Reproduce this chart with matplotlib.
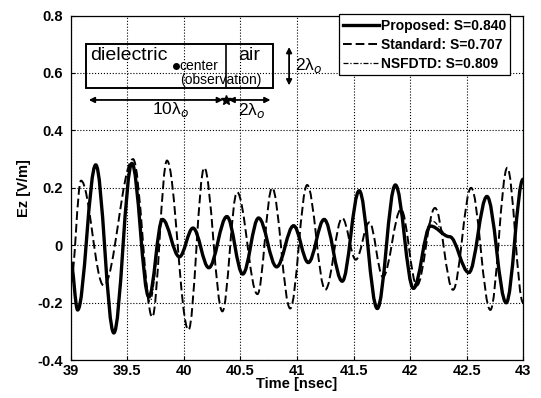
import matplotlib
matplotlib.use('Agg')
import matplotlib.pyplot as plt
from matplotlib.path import Path
from matplotlib.patches import PathPatch, Rectangle
from matplotlib.lines import Line2D

plt.rcParams['font.family'] = ['Liberation Sans', 'DejaVu Sans']
plt.rcParams['mathtext.fontset'] = 'dejavusans'

# turning points: time [nsec], Ez [V/m]
prop_t = [39.00, 39.06, 39.22, 39.38, 39.54, 39.69, 39.81, 39.96, 40.08, 40.22,
          40.38, 40.52, 40.66, 40.82, 40.97, 41.10, 41.24, 41.40, 41.55, 41.71,
          41.87, 42.03, 42.18, 42.35, 42.52, 42.68, 42.85, 43.00]
prop_ez = [-0.06, -0.225, 0.28, -0.305, 0.285, -0.18, 0.09, -0.04, 0.06, -0.078,
           0.10, -0.10, 0.095, -0.075, 0.068, -0.06, 0.09, -0.125, 0.19, -0.22,
           0.21, -0.15, 0.067, 0.03, -0.095, 0.17, -0.20, 0.23]

std_t = [39.00, 39.09, 39.29, 39.55, 39.72, 39.85, 40.04, 40.18, 40.34, 40.47,
         40.65, 40.78, 40.94, 41.09, 41.25, 41.40, 41.52, 41.64, 41.76, 41.92,
         42.06, 42.22, 42.38, 42.54, 42.71, 42.86, 43.00]
std_ez = [-0.13, 0.225, -0.14, 0.30, -0.25, 0.295, -0.295, 0.27, -0.23, 0.185,
          -0.17, 0.20, -0.22, 0.21, -0.155, 0.095, -0.05, 0.08, -0.11, 0.125,
          -0.14, 0.13, -0.155, 0.20, -0.225, 0.27, -0.20]

nsf_t = [39.00, 39.06, 39.22, 39.38, 39.54, 39.70, 39.81, 39.96, 40.08, 40.22,
         40.38, 40.52, 40.66, 40.82, 40.97, 41.10, 41.24, 41.40, 41.55, 41.71,
         41.87, 42.03, 42.19, 42.35, 42.52, 42.68, 42.85, 43.00]
nsf_ez = [-0.07, -0.22, 0.28, -0.30, 0.28, -0.195, 0.09, -0.04, 0.06, -0.078,
          0.10, -0.10, 0.095, -0.075, 0.07, -0.06, 0.09, -0.125, 0.185, -0.21,
          0.21, -0.14, 0.085, 0.03, -0.095, 0.17, -0.195, 0.23]

labels = ['Proposed: S=0.840', 'Standard: S=0.707', 'NSFDTD: S=0.809']
xticks = [39, 39.5, 40, 40.5, 41, 41.5, 42, 42.5, 43]
xticklabels = ['39', '39.5', '40', '40.5', '41', '41.5', '42', '42.5', '43']
yticks = [-0.4, -0.2, 0, 0.2, 0.4, 0.6, 0.8]
yticklabels = ['-0.4', '-0.2', '0', '0.2', '0.4', '0.6', '0.8']


def wave_path(t, y, c=0.364):
    # smooth curve through the turning points, flat at each one
    verts = [(t[0], y[0])]
    codes = [Path.MOVETO]
    for i in range(len(t) - 1):
        dt = t[i + 1] - t[i]
        verts += [(t[i] + c * dt, y[i]), (t[i + 1] - c * dt, y[i + 1]), (t[i + 1], y[i + 1])]
        codes += [Path.CURVE4] * 3
    return Path(verts, codes)


fig = plt.figure(figsize=(5.41, 3.98), dpi=100)
ax = fig.add_axes([0.131, 0.095, 0.836, 0.866])

styles = [dict(ls='-', lw=2.4), dict(ls=(0, (4.5, 2)), lw=1.4), dict(ls=(0, (4, 1.5, 1, 1.5)), lw=0.9)]
for (t, y), st in zip([(std_t, std_ez), (nsf_t, nsf_ez), (prop_t, prop_ez)], [styles[1], styles[2], styles[0]]):
    ax.add_patch(PathPatch(wave_path(t, y), fill=False, ec='black', **st))

ax.set_xlim(39, 43)
ax.set_ylim(-0.4, 0.8)
ax.set_xticks(xticks)
ax.set_xticklabels(xticklabels)
ax.set_yticks(yticks)
ax.set_yticklabels(yticklabels)
ax.tick_params(direction='in', length=3, labelsize=10.5, width=0.8)
ax.tick_params(axis='y', pad=6)
ax.tick_params(axis='x', pad=3)
for lab in ax.get_xticklabels() + ax.get_yticklabels():
    lab.set_fontweight('bold')
ax.grid(True, ls=':', color='black', lw=0.8)
for s in ax.spines.values():
    s.set_linewidth(0.9)
ax.set_xlabel('Time [nsec]', fontweight='bold', fontsize=10.5, labelpad=-1)
ax.set_ylabel('Ez [V/m]', fontweight='bold', fontsize=10.5, labelpad=4)

handles = [Line2D([], [], color='black', **st) for st in styles]
leg = ax.legend(handles, labels, loc='upper right', bbox_to_anchor=(0.971, 1.003),
                prop=dict(weight='bold', size=10), handlelength=2.6, handletextpad=0.1,
                labelspacing=0.38, borderpad=0.3, fancybox=False, framealpha=1,
                edgecolor='black', borderaxespad=0)
leg.get_frame().set_linewidth(0.9)

# inset sketch of the geometry
ax.add_patch(Rectangle((39.134, 0.547), 40.79 - 39.134, 0.153, fill=False, ec='black', lw=1.4))
ax.plot([40.37, 40.37], [0.547, 0.70], color='black', lw=1.2)
ax.text(39.17, 0.662, 'dielectric', fontsize=14, va='center')
ax.text(40.58, 0.662, 'air', fontsize=14, va='center', ha='center')
ax.plot([39.93], [0.625], 'o', color='black', ms=4)
ax.text(39.96, 0.623, 'center', fontsize=10, va='center')
ax.text(40.33, 0.574, '(observation)', fontsize=10, va='center', ha='center')
ax.annotate('', xy=(39.134, 0.506), xytext=(40.37, 0.506),
            arrowprops=dict(arrowstyle='<|-|>', color='black', lw=1.3, mutation_scale=8))
ax.annotate('', xy=(40.37, 0.506), xytext=(40.79, 0.506),
            arrowprops=dict(arrowstyle='<|-|>', color='black', lw=1.3, mutation_scale=8))
ax.plot([40.37], [0.506], marker='*', color='black', ms=7)
ax.text(39.88, 0.474, '10λ$_o$', fontsize=12.5, ha='center', va='center')
ax.text(40.60, 0.470, '2λ$_o$', fontsize=12.5, ha='center', va='center')
ax.annotate('', xy=(40.93, 0.700), xytext=(40.93, 0.547),
            arrowprops=dict(arrowstyle='<|-|>', color='black', lw=1.3, mutation_scale=8))
ax.text(40.98, 0.625, '2λ$_o$', fontsize=12.5, va='center')

fig.savefig('out.png', dpi=100)
